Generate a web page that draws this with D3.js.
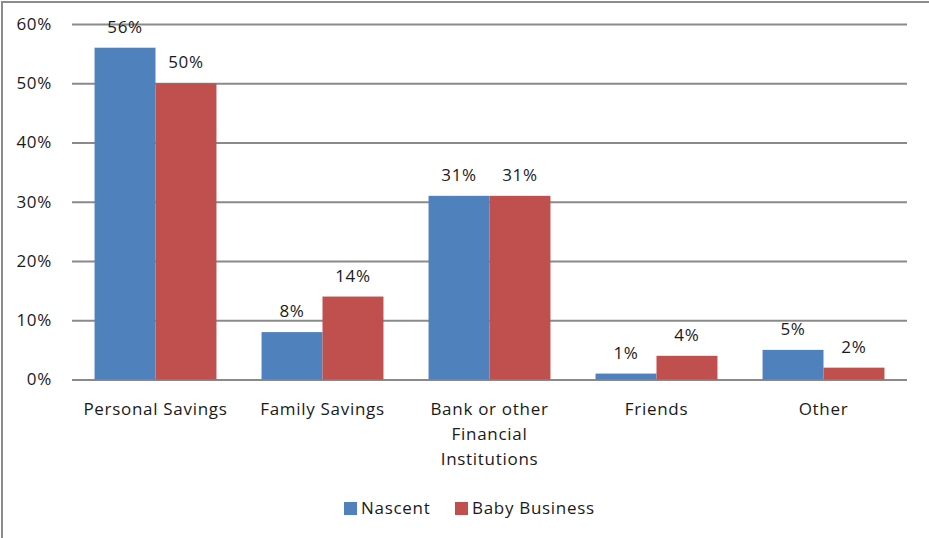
<!DOCTYPE html>
<html>
<head>
<meta charset="utf-8">
<script src="https://cdn.jsdelivr.net/npm/d3@7"></script>
<style>
  html, body { margin: 0; padding: 0; background: #fff; }
  svg { display: block; }
  text { font-family: "Open Sans", "DejaVu Sans", sans-serif; fill: #1a1a1a; letter-spacing: 0.7px; }
</style>
</head>
<body>
<svg id="chart" width="929" height="538"></svg>
<script>
// Sources of start-up funding, share of respondents
const categories = ["Personal Savings", "Family Savings", "Bank or other Financial Institutions", "Friends", "Other"];
const categoryLines = [["Personal Savings"], ["Family Savings"], ["Bank or other", "Financial", "Institutions"], ["Friends"], ["Other"]];
const seriesNames = ["Nascent", "Baby Business"];
const nascent = [0.56, 0.08, 0.31, 0.01, 0.05];
const babyBusiness = [0.50, 0.14, 0.31, 0.04, 0.02];
const yTicks = [0, 0.1, 0.2, 0.3, 0.4, 0.5, 0.6];
const colors = ["#4f81bd", "#c0504d"];

const seriesValues = [nascent, babyBusiness];
const svg = d3.select("#chart");
const fontSize = 17;

// outer frame (top and left edges visible)
svg.append("rect")
  .attr("x", 2).attr("y", 2)
  .attr("width", 960).attr("height", 600)
  .attr("fill", "none")
  .attr("stroke", "#8c8c8c")
  .attr("stroke-width", 2);

const plot = { left: 72, right: 907, top: 24, bottom: 379.5 };

const y = d3.scaleLinear().domain([0, 0.6]).range([plot.bottom, plot.top]);
const x0 = d3.scaleBand().domain(categories)
  .range([plot.left, plot.right])
  .paddingInner(0.27).paddingOuter(0.135);
const x1 = d3.scaleBand().domain(seriesNames).range([0, x0.bandwidth()]);

const pct = d3.format(".0%");

// gridlines + y tick labels via axis
const yAxis = d3.axisLeft(y).tickValues(yTicks).tickFormat(pct)
  .tickSize(-(plot.right - plot.left)).tickPadding(20);
const gy = svg.append("g").attr("transform", `translate(${plot.left},0)`).call(yAxis);
gy.select(".domain").remove();
gy.selectAll(".tick line").attr("stroke", "#8a8a8a").attr("stroke-width", 2);
gy.selectAll(".tick text")
  .attr("font-size", fontSize)
  .attr("fill", "#1a1a1a")
  .style("font-family", "'Open Sans', 'DejaVu Sans', sans-serif");

// bars
const rows = categories.map((c, i) => ({ cat: c, vals: seriesNames.map((s, j) => ({ s, j, v: seriesValues[j][i] })) }));
const groups = svg.append("g").selectAll("g").data(rows).join("g")
  .attr("transform", d => `translate(${x0(d.cat)},0)`);

groups.selectAll("rect").data(d => d.vals).join("rect")
  .attr("x", d => x1(d.s))
  .attr("y", d => y(d.v))
  .attr("width", x1.bandwidth())
  .attr("height", d => y(0) - y(d.v))
  .attr("fill", d => colors[d.j]);

// value labels
groups.selectAll("text.val").data(d => d.vals).join("text")
  .attr("class", "val")
  .attr("x", d => x1(d.s) + x1.bandwidth() / 2)
  .attr("y", d => y(d.v) - 15)
  .attr("text-anchor", "middle")
  .attr("font-size", fontSize)
  .text(d => pct(d.v));

// category labels
const cl = svg.append("g").selectAll("text").data(categories).join("text")
  .attr("x", d => x0(d) + x0.bandwidth() / 2)
  .attr("y", 415)
  .attr("text-anchor", "middle")
  .attr("font-size", fontSize);
cl.each(function(d, i) {
  d3.select(this).selectAll("tspan").data(categoryLines[i]).join("tspan")
    .attr("x", x0(d) + x0.bandwidth() / 2)
    .attr("dy", (t, k) => k === 0 ? 0 : 25)
    .text(t => t);
});

// legend
const legend = svg.append("g");
const legendX = [344, 455];
seriesNames.forEach((s, j) => {
  legend.append("rect")
    .attr("x", legendX[j]).attr("y", 502)
    .attr("width", 13).attr("height", 13)
    .attr("fill", colors[j]);
  legend.append("text")
    .attr("x", legendX[j] + 17).attr("y", 514)
    .attr("font-size", fontSize)
    .text(s);
});
</script>
</body>
</html>
